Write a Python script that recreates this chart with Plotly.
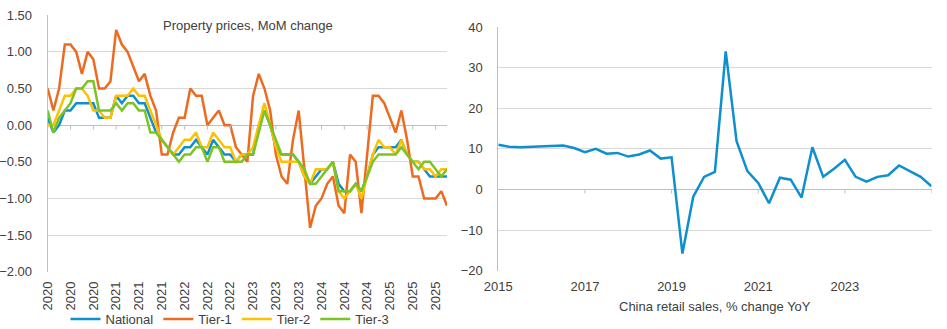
import plotly.graph_objects as go
import pandas as pd

# ---------------- Left chart data: property prices, MoM change (%) ----------------
months = pd.date_range("2020-01-01", periods=71, freq="MS").strftime("%Y-%m").tolist()

national = [0.1, -0.1, 0.0, 0.2, 0.2, 0.3, 0.3, 0.3, 0.3, 0.1,
            0.1, 0.1, 0.4, 0.3, 0.4, 0.4, 0.3, 0.3, 0.1, -0.1,
            -0.2, -0.3, -0.4, -0.4, -0.3, -0.3, -0.2, -0.3, -0.4, -0.2,
            -0.3, -0.4, -0.4, -0.5, -0.4, -0.4, -0.4, 0.0, 0.2, 0.0,
            -0.3, -0.4, -0.4, -0.4, -0.5, -0.7, -0.8, -0.7, -0.6, -0.6,
            -0.5, -0.8, -0.9, -0.9, -0.8, -0.9, -0.7, -0.4, -0.3, -0.3,
            -0.3, -0.3, -0.2, -0.4, -0.5, -0.5, -0.6, -0.7, -0.7, -0.7,
            -0.7]
tier1 = [0.5, 0.2, 0.5, 1.1, 1.1, 1.0, 0.7, 1.0, 0.9, 0.5,
         0.5, 0.6, 1.3, 1.1, 1.0, 0.8, 0.6, 0.7, 0.4, 0.2,
         -0.4, -0.4, -0.1, 0.1, 0.1, 0.5, 0.4, 0.4, 0.0, 0.1,
         0.2, 0.0, 0.0, -0.3, -0.4, -0.5, 0.4, 0.7, 0.5, 0.2,
         -0.4, -0.7, -0.8, -0.2, 0.2, -0.6, -1.4, -1.1, -1.0, -0.8,
         -0.7, -1.1, -1.2, -0.4, -0.5, -1.2, -0.4, 0.4, 0.4, 0.3,
         0.1, -0.1, 0.2, -0.2, -0.7, -0.7, -1.0, -1.0, -1.0, -0.9,
         -1.1]
tier2 = [0.0, 0.0, 0.2, 0.4, 0.4, 0.5, 0.5, 0.4, 0.2, 0.2,
         0.1, 0.1, 0.4, 0.4, 0.4, 0.5, 0.4, 0.4, 0.2, 0.0,
         -0.2, -0.3, -0.4, -0.3, -0.2, -0.2, -0.1, -0.3, -0.3, -0.1,
         -0.2, -0.3, -0.3, -0.5, -0.4, -0.4, -0.3, 0.0, 0.3, 0.0,
         -0.3, -0.5, -0.5, -0.5, -0.5, -0.7, -0.8, -0.6, -0.6, -0.6,
         -0.5, -0.9, -1.0, -0.9, -0.8, -1.0, -0.7, -0.4, -0.2, -0.3,
         -0.3, -0.4, -0.2, -0.4, -0.5, -0.5, -0.6, -0.6, -0.7, -0.6,
         -0.6]
tier3 = [0.2, -0.1, 0.1, 0.2, 0.3, 0.5, 0.5, 0.6, 0.6, 0.2,
         0.2, 0.2, 0.3, 0.2, 0.3, 0.3, 0.2, 0.2, -0.1, -0.1,
         -0.2, -0.3, -0.4, -0.5, -0.4, -0.4, -0.3, -0.3, -0.5, -0.3,
         -0.3, -0.5, -0.5, -0.5, -0.5, -0.4, -0.4, -0.1, 0.2, 0.0,
         -0.2, -0.4, -0.4, -0.4, -0.5, -0.6, -0.8, -0.8, -0.7, -0.6,
         -0.5, -0.9, -0.9, -0.9, -0.8, -0.9, -0.7, -0.5, -0.4, -0.4,
         -0.4, -0.4, -0.3, -0.4, -0.5, -0.6, -0.5, -0.5, -0.6, -0.7,
         -0.6]

left_tick_months = months[::4]
left_tick_labels = [m[:4] for m in left_tick_months]

# ---------------- Right chart data: China retail sales, % change YoY ----------------
quarters = [f"{y}Q{q}" for y in range(2015, 2026) for q in range(1, 5)][:41]
retail_sales_yoy = [11.0, 10.5, 10.4, 10.5, 10.7, 10.8, 10.8, 10.2, 9.2, 10.0,
                    8.8, 9.0, 8.1, 8.6, 9.6, 7.6, 7.9, -15.8, -1.8, 3.1,
                    4.3, 34.0, 11.9, 4.5, 1.6, -3.4, 2.9, 2.4, -2.0, 10.4,
                    3.1, 5.1, 7.3, 3.1, 1.9, 3.1, 3.5, 5.9, 4.5, 3.1,
                    0.8]
right_tick_quarters = quarters[::8]
right_tick_labels = ["2015", "2017", "2019", "2021", "2023", ""]

# ---------------- Styling ----------------
W, H = 947, 329
FONT = "Liberation Sans, Arial, sans-serif"
TXT = "#404040"
GRID = "#d9d9d9"
AXIS = "#bfbfbf"
BLUE = "#0E8FD0"
ORANGE = "#ED6B21"
GOLD = "#FFC000"
GREEN = "#7CC424"

fig = go.Figure()
for name, vals, col in [("National", national, BLUE), ("Tier-1", tier1, ORANGE),
                        ("Tier-2", tier2, GOLD), ("Tier-3", tier3, GREEN)]:
    fig.add_trace(go.Scatter(x=months, y=vals, name=name, mode="lines",
                             line=dict(color=col, width=2.5),
                             xaxis="x", yaxis="y", hoverinfo="skip"))
fig.add_trace(go.Scatter(x=quarters, y=retail_sales_yoy, mode="lines",
                         line=dict(color=BLUE, width=2.5), showlegend=False,
                         xaxis="x2", yaxis="y2", hoverinfo="skip"))

def px_x(p):
    return p / W

def px_y(p):
    return (H - p) / H

shapes = []
for i in range(4, len(months), 4):
    shapes.append(dict(type="line", xref="x", yref="y", x0=i, x1=i, y0=0, y1=-0.06,
                       line=dict(color=AXIS, width=1)))
for k in range(8, len(quarters), 8):
    shapes.append(dict(type="line", xref="x2", yref="y2", x0=k, x1=k, y0=0, y1=-1.0,
                       line=dict(color=AXIS, width=1)))

fig.update_layout(
    width=W, height=H,
    margin=dict(l=0, r=0, t=0, b=0, autoexpand=False),
    paper_bgcolor="white", plot_bgcolor="white",
    font=dict(family=FONT, size=13, color=TXT),
    shapes=shapes,
    xaxis=dict(domain=[px_x(47.7), px_x(447)], anchor="y", type="category",
               range=[0, len(months) - 1], tickmode="array",
               tickvals=left_tick_months, ticktext=left_tick_labels,
               tickangle=-90, showgrid=False, showline=False, zeroline=False,
               automargin=False,
               ticks="", ticklabelstandoff=6, tickfont=dict(size=13, color=TXT)),
    yaxis=dict(domain=[px_y(272), px_y(15)], anchor="x", range=[-2.003, 1.503],
               tickvals=[-2, -1.5, -1, -0.5, 0, 0.5, 1, 1.5], tickformat=".2f",
               showgrid=True, gridcolor=GRID, gridwidth=1,
               showline=True, linecolor=AXIS, linewidth=1,
               zeroline=True, zerolinecolor=AXIS, zerolinewidth=1, automargin=False,
               ticks="", ticklabelstandoff=12, tickfont=dict(size=13, color=TXT)),
    xaxis2=dict(domain=[px_x(498.3), px_x(931.5)], anchor="y2", type="category",
                range=[0, len(quarters) - 1], tickmode="array",
                tickvals=right_tick_quarters, ticktext=right_tick_labels,
                tickangle=0, showgrid=False, showline=False, zeroline=False,
                automargin=False,
                ticks="", ticklabelstandoff=6, tickfont=dict(size=13, color=TXT)),
    yaxis2=dict(domain=[px_y(271), px_y(26.7)], anchor="x2", range=[-20.1, 40.1],
                tickvals=[-20, -10, 0, 10, 20, 30, 40],
                showgrid=True, gridcolor=GRID, gridwidth=1,
                showline=True, linecolor=AXIS, linewidth=1,
                zeroline=True, zerolinecolor=AXIS, zerolinewidth=1, automargin=False,
                ticks="", ticklabelstandoff=12, tickfont=dict(size=13, color=TXT)),
    legend=dict(orientation="h", x=px_x(230), xanchor="center", y=px_y(319),
                yanchor="middle", font=dict(size=13, color=TXT),
                itemwidth=30, bgcolor="rgba(0,0,0,0)", tracegroupgap=0),
    annotations=[
        dict(text="Property prices, MoM change", xref="paper", yref="paper",
             x=px_x(248), y=px_y(26), xanchor="center", yanchor="middle",
             showarrow=False, font=dict(size=13, color=TXT)),
        dict(text="China retail sales, % change YoY", xref="paper", yref="paper",
             x=px_x(715), y=px_y(306), xanchor="center", yanchor="middle",
             showarrow=False, font=dict(size=13, color=TXT)),
    ],
)

fig.write_html("out.html")
